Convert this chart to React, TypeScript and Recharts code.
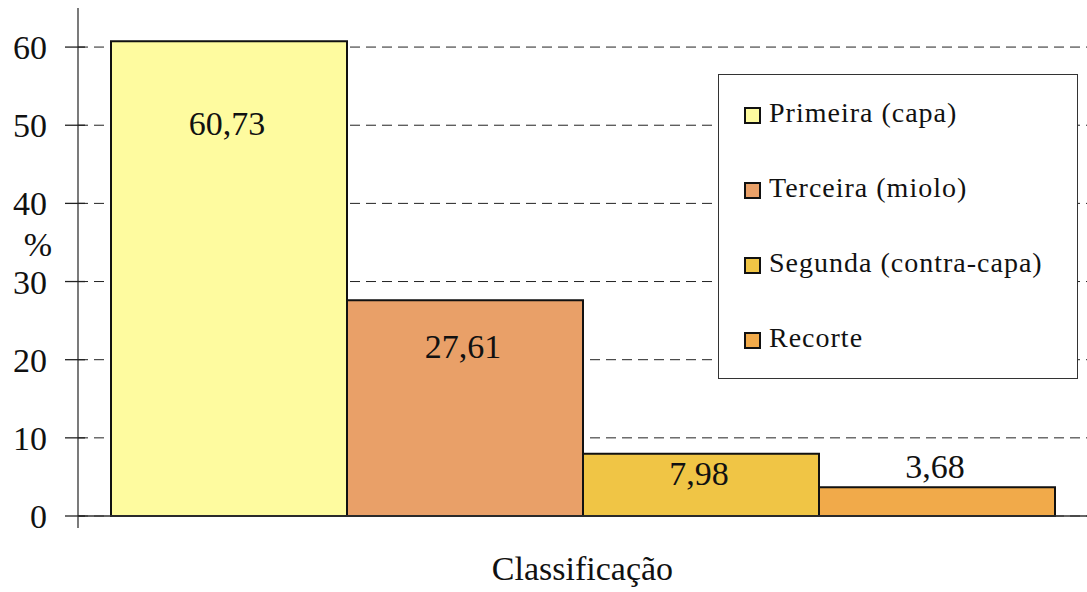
import { BarChart, Bar, XAxis, YAxis, CartesianGrid, Legend } from 'recharts';

// Distribuição por classificação (%)
const seriesNames = ['Primeira (capa)', 'Terceira (miolo)', 'Segunda (contra-capa)', 'Recorte'];
const seriesKeys = ['primeira', 'terceira', 'segunda', 'recorte'];
const seriesValues = [60.73, 27.61, 7.98, 3.68];
const yTicks = [0, 10, 20, 30, 40, 50, 60];
const categoryName = 'Classificação';

const seriesColors = ['#FEFB9F', '#E9A068', '#F0C545', '#F1AA4A'];
// vertical spot of each value label, measured from the top of its bar
const labelDy = [94, 58, 31, -9];

const FONT = "'Liberation Serif', 'Times New Roman', serif";

const row: Record<string, string | number> = { name: categoryName };
seriesKeys.forEach((k, i) => {
  row[k] = seriesValues[i];
});
const data = [row];

const fmt = (v: number) => v.toFixed(2).replace('.', ',');

function YTick(props: any) {
  const { x, y, payload } = props;
  return (
    <g>
      <line x1={x - 13} x2={x + 7} y1={y} y2={y} stroke="#222" strokeWidth={1.3} />
      {payload.value === 0 && <line x1={x} x2={x} y1={y} y2={y + 12} stroke="#333" strokeWidth={1.3} />}
      <text x={x - 31} y={y + 12} textAnchor="end" fontSize={34} fontFamily={FONT} fill="#111">
        {payload.value}
      </text>
    </g>
  );
}

function makeLabel(i: number) {
  return (props: any) => {
    const { x, y, width, value } = props;
    return (
      <text
        x={x + width / 2 - 2}
        y={y + labelDy[i]}
        textAnchor="middle"
        fontSize={34}
        fontFamily={FONT}
        fill="#111"
      >
        {fmt(value)}
      </text>
    );
  };
}

function LegendBox() {
  return (
    <div
      style={{
        position: 'relative',
        width: 358,
        height: 303,
        background: '#fff',
        border: '1.5px solid #333',
        fontFamily: FONT,
        color: '#111',
      }}
    >
      {seriesNames.map((name, i) => (
        <div
          key={name}
          style={{
            position: 'absolute',
            left: 25,
            top: 24 + i * 75,
            height: 28,
            lineHeight: '28px',
            whiteSpace: 'nowrap',
            fontSize: 28,
            letterSpacing: 1,
          }}
        >
          <span
            style={{
              position: 'absolute',
              left: 0,
              top: 8,
              width: 13,
              height: 13,
              border: '2px solid #111',
              background: seriesColors[i],
            }}
          />
          <span style={{ position: 'absolute', left: 25 }}>{name}</span>
        </div>
      ))}
    </div>
  );
}

export default function App() {
  return (
    <div style={{ position: 'absolute', left: 0, top: 0, width: 1087, height: 592, background: '#fff' }}>
      <BarChart
        width={1087}
        height={592}
        data={data}
        margin={{ top: 8, right: 0, bottom: 0, left: 0 }}
        barCategoryGap={33}
        barGap={0}
      >
        <CartesianGrid
          horizontal
          vertical={false}
          horizontalValues={yTicks}
          syncWithTicks
          stroke="#222"
          strokeDasharray="10 6"
        />
        <XAxis
          dataKey="name"
          height={76}
          tick={false}
          tickLine={false}
          axisLine={{ stroke: '#333', strokeWidth: 1.3 }}
          label={(props: any) => {
            const vb = props.viewBox;
            return (
              <text
                x={vb.x + vb.width / 2}
                y={vb.y + 64}
                textAnchor="middle"
                fontSize={34}
                fontFamily={FONT}
                fill="#111"
              >
                {categoryName}
              </text>
            );
          }}
        />
        <YAxis
          width={78}
          domain={[0, 65]}
          ticks={yTicks}
          tickSize={0}
          tickMargin={0}
          tickLine={false}
          tick={<YTick />}
          axisLine={{ stroke: '#333', strokeWidth: 1.3 }}
          label={(props: any) => {
            const vb = props.viewBox;
            return (
              <text x={vb.x + 38} y={vb.y + 248} textAnchor="middle" fontSize={34} fontFamily={FONT} fill="#111">
                %
              </text>
            );
          }}
        />
        <Legend
          layout="vertical"
          align="center"
          verticalAlign="middle"
          wrapperStyle={{ left: 718, top: 74, width: 362, height: 307 }}
          content={() => <LegendBox />}
        />
        {seriesKeys.map((k, i) => (
          <Bar
            key={k}
            dataKey={k}
            name={seriesNames[i]}
            fill={seriesColors[i]}
            stroke="#111"
            strokeWidth={2}
            isAnimationActive={false}
            label={makeLabel(i)}
          />
        ))}
      </BarChart>
    </div>
  );
}
